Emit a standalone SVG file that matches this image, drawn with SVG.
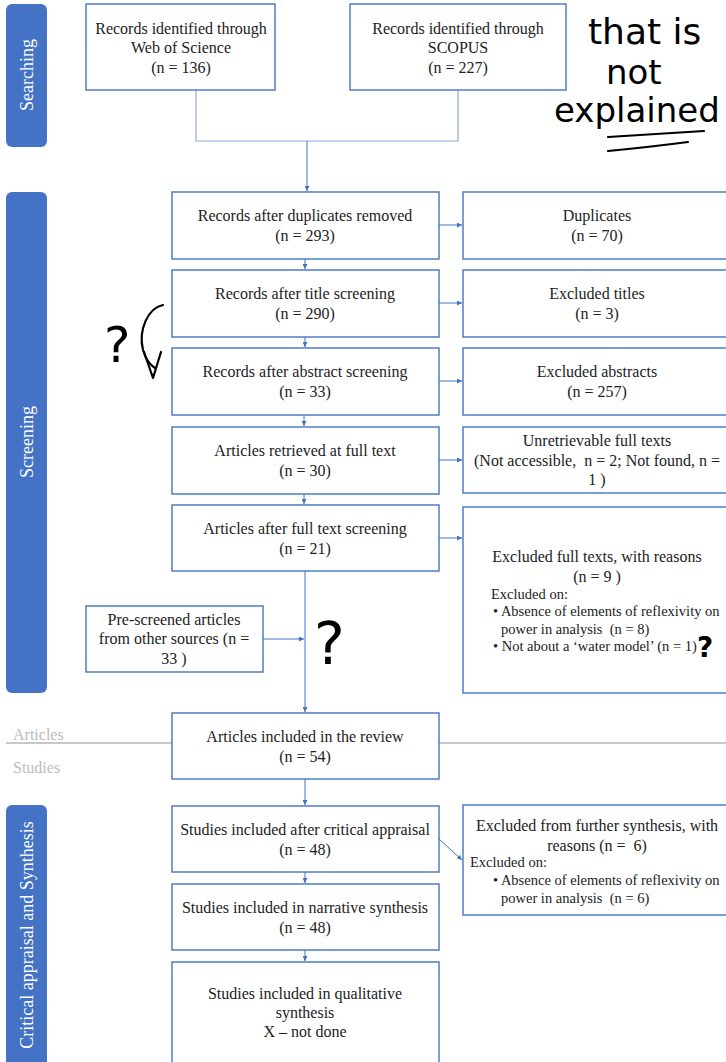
<svg xmlns="http://www.w3.org/2000/svg" width="726" height="1062" viewBox="0 0 726 1062">
<style>
text{white-space:pre;}
.bar{fill:#4472C4;}
.bl{font-family:"Liberation Serif",serif;font-size:18px;fill:#fff;text-anchor:middle;}
.box{fill:#fff;stroke:#4472C4;stroke-width:1.4;}
.t{font-family:"Liberation Serif",serif;font-size:16px;fill:#222;text-anchor:middle;}
.s{font-family:"Liberation Serif",serif;font-size:14.5px;fill:#222;}
.c{fill:none;stroke:#4472C4;stroke-width:1;}
.cl{fill:none;stroke:#8EA9DB;stroke-width:1.2;}
.sep{stroke:#c8c8c8;stroke-width:2;}
.g{font-family:"Liberation Serif",serif;font-size:16px;fill:#bdbdbd;}
.hw{font-family:"DejaVu Sans",sans-serif;fill:#000;}
.ink{fill:none;stroke:#000;stroke-width:2.2;stroke-linecap:round;stroke-linejoin:round;}
</style>
<defs>
<marker id="ah" viewBox="0 0 10 10" refX="10" refY="5" markerWidth="5" markerHeight="5" orient="auto">
<path d="M0,0 L10,5 L0,10 z" fill="#4472C4"/>
</marker>
</defs>

<g id="bars">
<rect class="bar" x="6" y="4" width="41" height="143" rx="6"/>
<text class="bl" transform="translate(33,75) rotate(-90)">Searching</text>
<rect class="bar" x="6" y="192" width="41" height="501" rx="6"/>
<text class="bl" transform="translate(33,442) rotate(-90)">Screening</text>
<rect class="bar" x="6" y="805" width="41" height="265" rx="6"/>
<text class="bl" transform="translate(33,935) rotate(-90)">Critical appraisal and Synthesis</text>
</g>

<g id="separator">
<line class="sep" x1="6" y1="743" x2="172" y2="743"/>
<line class="sep" x1="439" y1="743" x2="726" y2="743"/>
<text class="g" x="13" y="740">Articles</text>
<text class="g" x="13" y="773">Studies</text>
</g>

<g id="connectors">
<path class="cl" d="M196,90 V141 H458 V90"/>
<path class="c" d="M307,141 V191" marker-end="url(#ah)"/>
<path class="c" d="M305,259 V269" marker-end="url(#ah)"/>
<path class="c" d="M305,337 V347" marker-end="url(#ah)"/>
<path class="c" d="M304,415 V426" marker-end="url(#ah)"/>
<path class="c" d="M304,494 V504" marker-end="url(#ah)"/>
<path class="c" d="M305,571 V712" marker-end="url(#ah)"/>
<path class="c" d="M263,639 H304" marker-end="url(#ah)"/>
<path class="c" d="M305,779 V805" marker-end="url(#ah)"/>
<path class="c" d="M305,872 V883" marker-end="url(#ah)"/>
<path class="c" d="M305,950 V961" marker-end="url(#ah)"/>
<path class="c" d="M439,225 H462" marker-end="url(#ah)"/>
<path class="c" d="M439,303 H462" marker-end="url(#ah)"/>
<path class="c" d="M439,381 H462" marker-end="url(#ah)"/>
<path class="c" d="M439,460 H462" marker-end="url(#ah)"/>
<path class="c" d="M439,538 H462" marker-end="url(#ah)"/>
<path class="c" d="M439,839 L462,860" marker-end="url(#ah)"/>
</g>

<g id="n-wos">
<rect class="box" x="86" y="4" width="189" height="86"/>
<text class="t" x="181" y="34">Records identified through</text>
<text class="t" x="181" y="53">Web of Science</text>
<text class="t" x="181" y="73">(n = 136)</text>
</g>
<g id="n-scopus">
<rect class="box" x="350" y="4" width="216" height="86"/>
<text class="t" x="458" y="34">Records identified through</text>
<text class="t" x="458" y="53">SCOPUS</text>
<text class="t" x="458" y="73">(n = 227)</text>
</g>

<g id="n-dup-removed">
<rect class="box" x="172" y="192" width="267" height="67"/>
<text class="t" x="305" y="221">Records after duplicates removed</text>
<text class="t" x="305" y="241">(n = 293)</text>
</g>
<g id="n-title">
<rect class="box" x="172" y="270" width="267" height="67"/>
<text class="t" x="305" y="299">Records after title screening</text>
<text class="t" x="305" y="319">(n = 290)</text>
</g>
<g id="n-abstract">
<rect class="box" x="172" y="348" width="267" height="67"/>
<text class="t" x="305" y="377">Records after abstract screening</text>
<text class="t" x="305" y="397">(n = 33)</text>
</g>
<g id="n-retrieved">
<rect class="box" x="172" y="427" width="267" height="67"/>
<text class="t" x="305" y="456">Articles retrieved at full text</text>
<text class="t" x="305" y="476">(n = 30)</text>
</g>
<g id="n-fulltext">
<rect class="box" x="172" y="505" width="267" height="66"/>
<text class="t" x="305" y="534">Articles after full text screening</text>
<text class="t" x="305" y="554">(n = 21)</text>
</g>
<g id="n-prescreened">
<rect class="box" x="86" y="606" width="177" height="66"/>
<text class="t" x="174" y="625">Pre-screened articles</text>
<text class="t" x="174" y="644">from other sources (n =</text>
<text class="t" x="174" y="664">33 )</text>
</g>
<g id="n-included">
<rect class="box" x="172" y="713" width="267" height="66"/>
<text class="t" x="305" y="742">Articles included in the review</text>
<text class="t" x="305" y="762">(n = 54)</text>
</g>
<g id="n-critical">
<rect class="box" x="172" y="806" width="267" height="66"/>
<text class="t" x="305" y="835">Studies included after critical appraisal</text>
<text class="t" x="305" y="855">(n = 48)</text>
</g>
<g id="n-narrative">
<rect class="box" x="172" y="884" width="267" height="66"/>
<text class="t" x="305" y="913">Studies included in narrative synthesis</text>
<text class="t" x="305" y="933">(n = 48)</text>
</g>
<g id="n-qualitative">
<rect class="box" x="172" y="962" width="267" height="110"/>
<text class="t" x="305" y="999">Studies included in qualitative</text>
<text class="t" x="305" y="1018">synthesis</text>
<text class="t" x="305" y="1037">X – not done</text>
</g>

<g id="n-duplicates">
<rect class="box" x="463" y="192" width="270" height="67"/>
<text class="t" x="597" y="221">Duplicates</text>
<text class="t" x="597" y="241">(n = 70)</text>
</g>
<g id="n-ex-titles">
<rect class="box" x="463" y="270" width="270" height="67"/>
<text class="t" x="597" y="299">Excluded titles</text>
<text class="t" x="597" y="319">(n = 3)</text>
</g>
<g id="n-ex-abstracts">
<rect class="box" x="463" y="348" width="270" height="67"/>
<text class="t" x="597" y="377">Excluded abstracts</text>
<text class="t" x="597" y="397">(n = 257)</text>
</g>
<g id="n-unretrievable">
<rect class="box" x="463" y="427" width="270" height="66"/>
<text class="t" x="597" y="446">Unretrievable full texts</text>
<text class="t" x="597" y="466">(Not accessible,  n = 2; Not found, n =</text>
<text class="t" x="597" y="485">1 )</text>
</g>
<g id="n-ex-fulltexts">
<rect class="box" x="463" y="507" width="270" height="186"/>
<text class="t" x="597" y="562">Excluded full texts, with reasons</text>
<text class="t" x="597" y="582">(n = 9 )</text>
<text class="s" x="491" y="599">Excluded on:</text>
<text class="s" x="493" y="616">• Absence of elements of reflexivity on</text>
<text class="s" x="501" y="634">power in analysis  (n = 8)</text>
<text class="s" x="493" y="651">• Not about a ‘water model’ (n = 1)</text>
</g>
<g id="n-ex-further">
<rect class="box" x="463" y="805" width="270" height="110"/>
<text class="t" x="597" y="831">Excluded from further synthesis, with</text>
<text class="t" x="597" y="851">reasons (n =  6)</text>
<text class="s" x="470" y="867">Excluded on:</text>
<text class="s" x="493" y="885">• Absence of elements of reflexivity on</text>
<text class="s" x="501" y="903">power in analysis  (n = 6)</text>
</g>

<g id="annotations">
<text class="hw" x="588" y="44" font-size="36">that is</text>
<text class="hw" x="606" y="84" font-size="34">not</text>
<text class="hw" x="554" y="122" font-size="34">explained</text>
<path class="ink" d="M608,137 Q655,134 704,131 M608,151 Q650,147 688,142"/>
<text class="hw" x="104" y="362" font-size="50">?</text>
<path class="ink" d="M163,305 C148,308 138,330 143,350 C146,360 150,365 155,368"/>
<path class="ink" d="M144,352 L153,378 L161,352"/>
<text class="hw" x="314" y="664" font-size="58">?</text>
<text class="hw" x="697" y="657" font-size="28" font-weight="bold">?</text>
</g>
</svg>
